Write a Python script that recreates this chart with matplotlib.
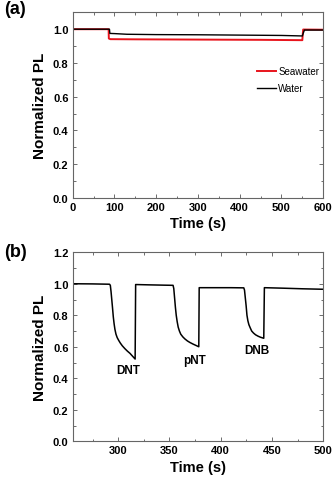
import numpy as np
import matplotlib
matplotlib.use('Agg')
import matplotlib.pyplot as plt

plt.rcParams['font.family'] = ['Liberation Sans', 'DejaVu Sans']

# panel (a): stability in seawater / water
sea_t = [0, 86, 86.5, 90, 150, 250, 350, 450, 550, 551, 552, 600]
sea_v = [1.0, 1.0, 0.945, 0.941, 0.940, 0.939, 0.938, 0.937, 0.935, 0.97, 0.998, 0.997]
water_t = [0, 88, 89, 100, 130, 200, 300, 400, 500, 550, 552, 555, 600]
water_v = [1.0, 1.0, 0.975, 0.974, 0.970, 0.968, 0.967, 0.965, 0.963, 0.960, 0.975, 0.995, 0.995]

# panel (b): quenching by explosives
b_t = [255.6, 275, 291.5, 292.3, 293, 293.7, 294.4, 295.2, 296, 296.8, 297.8, 299, 300.5,
       302, 304, 306.5, 309, 311.5, 314, 316.5,
       317, 330, 345, 353.5, 354.2, 355, 355.8, 356.6, 357.5, 358.5, 359.7, 361, 363, 365,
       367.5, 370, 373, 376, 378.6,
       379, 395, 410, 422.5, 423.2, 424, 424.8, 425.6, 426.5, 427.5, 428.8, 430.2, 432, 434,
       436.5, 439, 442,
       442.6, 460, 480, 500]
b_v = [1.0, 0.999, 0.997, 0.99, 0.95, 0.90, 0.85, 0.79, 0.745, 0.71, 0.68, 0.658, 0.64,
       0.624, 0.606, 0.588, 0.572, 0.558, 0.54, 0.522,
       0.995, 0.993, 0.991, 0.99, 0.97, 0.91, 0.85, 0.80, 0.76, 0.725, 0.70, 0.68, 0.663, 0.65,
       0.637, 0.627, 0.617, 0.608, 0.60,
       0.975, 0.975, 0.975, 0.974, 0.96, 0.91, 0.86, 0.80, 0.765, 0.74, 0.72, 0.70, 0.687, 0.676,
       0.667, 0.66, 0.654,
       0.975, 0.972, 0.968, 0.965]
b_labels = ['DNT', 'pNT', 'DNB']
b_label_x = [309.5, 374.8, 434.9]
b_label_y = [0.45, 0.517, 0.581]

fig = plt.figure(figsize=(3.34, 4.81), dpi=100)
ax1 = fig.add_axes([0.2177, 0.5863, 0.750, 0.386])
ax2 = fig.add_axes([0.2177, 0.0805, 0.750, 0.393])

ax1.plot(sea_t, sea_v, color='#e8141c', lw=1.4, label='Seawater')
ax1.plot(water_t, water_v, color='black', lw=1.0, label='Water')
ax1.set_xlim(0, 600)
ax1.set_ylim(0, 1.1)
ax1.set_xticks(np.arange(0, 601, 100))
ax1.set_xticks(np.arange(0, 601, 50), minor=True)
ax1.set_yticks(np.arange(0, 1.01, 0.2))
ax1.set_yticks(np.arange(0, 1.01, 0.1), minor=True)
ax1.legend(loc='upper left', bbox_to_anchor=(0.735, 0.71), frameon=False, fontsize=7,
           handlelength=2.0, handletextpad=0.2, labelspacing=0.7, borderpad=0, borderaxespad=0)

ax2.plot(b_t, b_v, color='black', lw=1.1)
for lab, x, y in zip(b_labels, b_label_x, b_label_y):
    ax2.text(x, y, lab, ha='center', va='center', fontsize=8.5, fontweight='bold')
ax2.set_xlim(255.6, 500)
ax2.set_ylim(0, 1.2)
ax2.set_xticks(np.arange(300, 501, 50))
ax2.set_xticks(np.arange(275, 501, 25), minor=True)
ax2.set_yticks(np.arange(0, 1.21, 0.2))
ax2.set_yticks(np.arange(0, 1.21, 0.1), minor=True)

for ax in (ax1, ax2):
    ax.tick_params(which='both', direction='in', top=True, right=True, colors='#555555',
                   labelcolor='black', labelsize=8, width=0.6, pad=3)
    ax.tick_params(which='major', length=3)
    ax.tick_params(which='minor', length=1.8)
    for lab in ax.get_xticklabels() + ax.get_yticklabels():
        lab.set_fontweight('bold')
    for s in ax.spines.values():
        s.set_color('#666666')
        s.set_linewidth(0.8)
    ax.set_ylabel('Normalized PL', fontsize=11, fontweight='bold', labelpad=4)
    ax.set_xlabel('Time (s)', fontsize=10.5, fontweight='bold', labelpad=3)
    ax.yaxis.set_major_formatter(matplotlib.ticker.FormatStrFormatter('%.1f'))

fig.text(0.012, 0.997, '(a)', fontsize=13, fontweight='bold', va='top')
fig.text(0.012, 0.492, '(b)', fontsize=13, fontweight='bold', va='top')

fig.savefig('out.png', dpi=100)
